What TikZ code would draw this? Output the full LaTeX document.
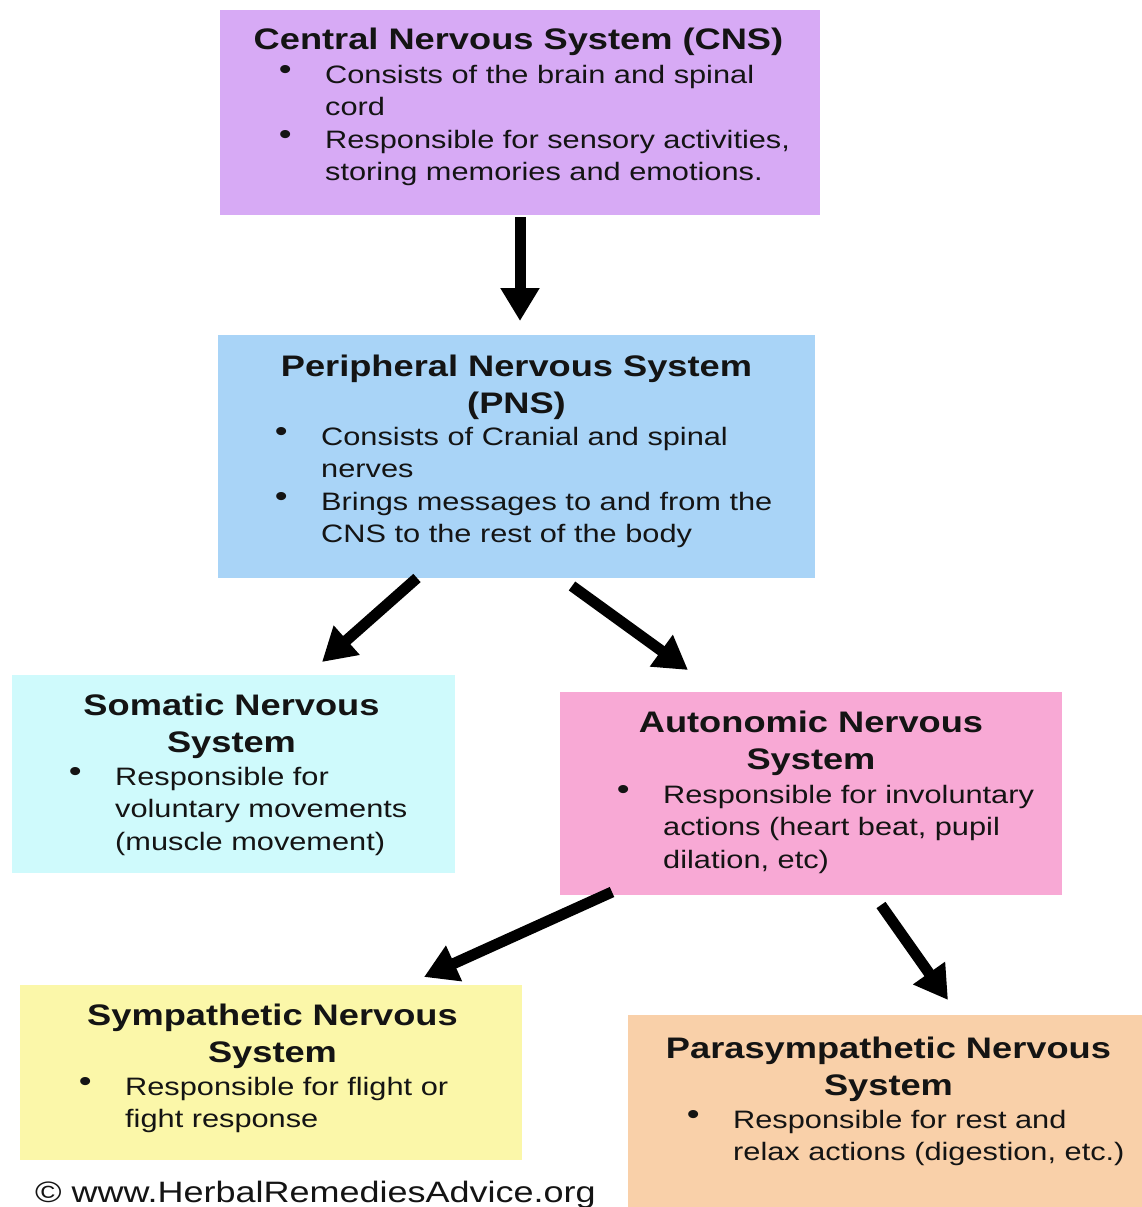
\documentclass[tikz,border=0pt]{standalone}
\usepackage{fontspec}
\setmainfont{Liberation Sans}[FakeStretch=1.22]
\usetikzlibrary{arrows.meta}
\definecolor{cnsC}{HTML}{D7AAF5}
\definecolor{pnsC}{HTML}{A9D4F7}
\definecolor{somC}{HTML}{CFFAFC}
\definecolor{autC}{HTML}{F8A9D5}
\definecolor{symC}{HTML}{FBF7A9}
\definecolor{parC}{HTML}{F9D0A9}
\definecolor{ink}{HTML}{141414}
\newcommand{\ttlfont}{\fontsize{29.7}{37}\selectfont\bfseries}
\newcommand{\bdyfont}{\fontsize{25.2}{32.5}\selectfont}
\newcommand{\bul}{\llap{{\fontsize{30}{30}\selectfont\raisebox{4pt}{\textbullet}}\hspace{33.5pt}}}
\tikzset{
  panel/.style={rectangle, inner sep=0pt, outer sep=0pt, draw=none},
  ttl/.style={anchor=base, inner sep=0pt, font=\ttlfont, text=ink},
  bdy/.style={anchor=base west, inner sep=0pt, font=\bdyfont, text=ink},
  arr/.style={draw=black, line width=11pt, -{Triangle[width=37pt,length=33pt]}}
}
\begin{document}
\begin{tikzpicture}[x=1pt,y=-1pt]
\useasboundingbox[fill=white] (0,0) rectangle (1142,1207);

% boxes
\node[panel, fill=cnsC, minimum width=600pt, minimum height=205pt] (cns) at (520,112.5) {};
\node[panel, fill=pnsC, minimum width=597pt, minimum height=243pt] (pns) at (516.5,456.5) {};
\node[panel, fill=somC, minimum width=443pt, minimum height=198pt] (som) at (233.5,774) {};
\node[panel, fill=autC, minimum width=502pt, minimum height=203pt] (aut) at (811,793.5) {};
\node[panel, fill=symC, minimum width=502pt, minimum height=175pt] (sym) at (271,1072.5) {};
\node[panel, fill=parC, minimum width=514pt, minimum height=192pt] (par) at (885,1111) {};

% CNS
\node[ttl] (cnsT) at (518.5,50) {Central Nervous System (CNS)};
\node[bdy] (cnsL) at (325,83) {\begin{tabular}[t]{@{}l@{}}\bul Consists of the brain and spinal\\ cord\\ \bul Responsible for sensory activities,\\ storing memories and emotions.\end{tabular}};

% PNS
\node[ttl] (pnsT) at (516.5,376) {\begin{tabular}[t]{@{}c@{}}Peripheral Nervous System\\ (PNS)\end{tabular}};
\node[bdy] (pnsL) at (321,445) {\begin{tabular}[t]{@{}l@{}}\bul Consists of Cranial and spinal\\ nerves\\ \bul Brings messages to and from the\\ CNS to the rest of the body\end{tabular}};

% Somatic
\node[ttl] (somT) at (231.5,715) {\begin{tabular}[t]{@{}c@{}}Somatic Nervous\\ System\end{tabular}};
\node[bdy] (somL) at (115,785) {\begin{tabular}[t]{@{}l@{}}\bul Responsible for\\ voluntary movements\\ (muscle movement)\end{tabular}};

% Autonomic
\node[ttl] (autT) at (811,732) {\begin{tabular}[t]{@{}c@{}}Autonomic Nervous\\ System\end{tabular}};
\node[bdy] (autL) at (663,803) {\begin{tabular}[t]{@{}l@{}}\bul Responsible for involuntary\\ actions (heart beat, pupil\\ dilation, etc)\end{tabular}};

% Sympathetic
\node[ttl] (symT) at (272.5,1025) {\begin{tabular}[t]{@{}c@{}}Sympathetic Nervous\\ System\end{tabular}};
\node[bdy] (symL) at (125,1095) {\begin{tabular}[t]{@{}l@{}}\bul Responsible for flight or\\ fight response\end{tabular}};

% Parasympathetic
\node[ttl] (parT) at (888.5,1058) {\begin{tabular}[t]{@{}c@{}}Parasympathetic Nervous\\ System\end{tabular}};
\node[bdy] (parL) at (733,1128) {\begin{tabular}[t]{@{}l@{}}\bul Responsible for rest and\\ relax actions (digestion, etc.)\end{tabular}};

% footer
\node[anchor=base west, inner sep=0pt, font=\fontsize{29.5}{34}\selectfont, text=ink] (foot) at (35,1202) {© www.HerbalRemediesAdvice.org};

% connector end points
\coordinate (a1s) at (520,217);
\coordinate (a1e) at (520,321);
\coordinate (a2s) at (417,578);
\coordinate (a2e) at (322,662);
\coordinate (a3s) at (572,586);
\coordinate (a3e) at (688,670);
\coordinate (a4s) at (612,892);
\coordinate (a4e) at (424,977);
\coordinate (a5s) at (881,905);
\coordinate (a5e) at (948,1000);

\draw[arr] (a1s) -- (a1e);
\draw[arr] (a2s) -- (a2e);
\draw[arr] (a3s) -- (a3e);
\draw[arr] (a4s) -- (a4e);
\draw[arr] (a5s) -- (a5e);
\end{tikzpicture}
\end{document}
